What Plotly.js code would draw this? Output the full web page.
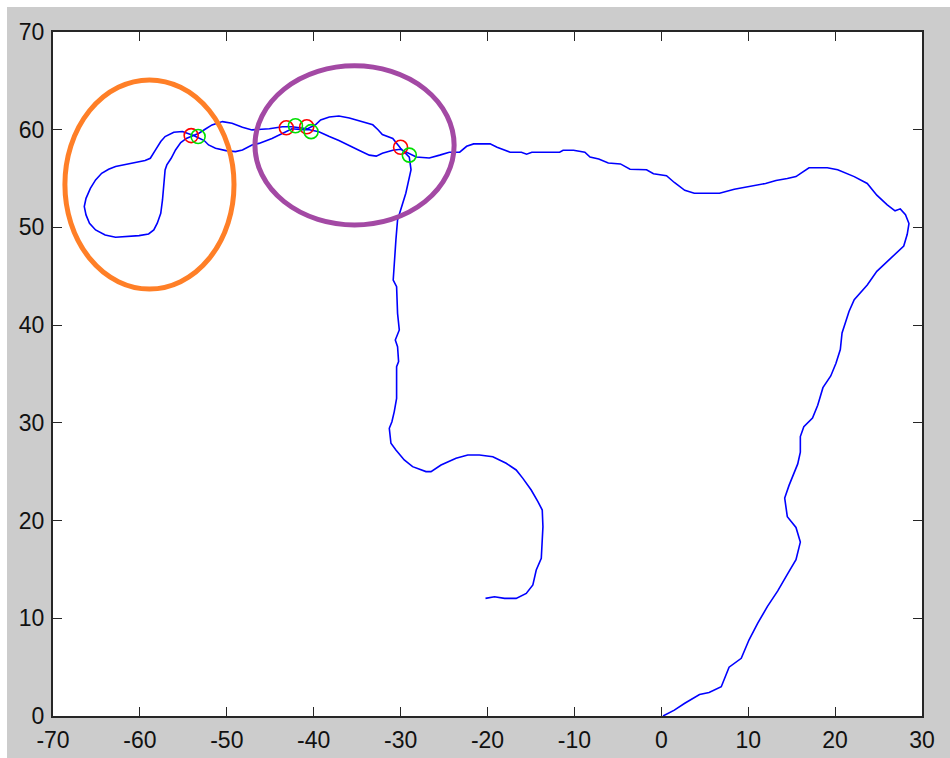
<!DOCTYPE html>
<html>
<head>
<meta charset="utf-8">
<script src="https://cdn.plot.ly/plotly-3.0.1.min.js"></script>
<style>
  html, body { margin: 0; padding: 0; background: #ffffff; width: 950px; height: 758px; overflow: hidden; }
  #chart { position: absolute; left: 7px; top: 7px; width: 943px; height: 751px; }
</style>
</head>
<body>
<div id="chart"></div>
<script>
// Trajectory (x, y) in order
const pathX = [0.2,1.5,2.7,4.4,5.5,6.9,7.8,9.2,10.1,11.1,12.2,13.4,14.5,15.5,16.0,15.5,14.5,14.2,14.7,15.7,16.0,16.0,16.4,17.4,18.0,18.6,19.5,20.1,20.6,20.8,21.2,21.6,22.2,22.9,23.7,24.8,26.2,27.9,28.3,28.5,28.1,27.5,26.9,26.0,24.8,23.7,22.2,20.3,19.1,17.0,16.0,15.5,14.5,13.2,12.0,10.7,8.4,6.7,3.8,2.7,1.5,0.6,-0.9,-1.7,-3.6,-4.7,-6.1,-7.2,-8.2,-8.8,-10.1,-11.3,-11.7,-14.9,-15.5,-16.1,-17.4,-18.9,-19.7,-21.6,-22.4,-23.2,-24.4,-25.5,-26.7,-28.2,-29.4,-30.0,-30.9,-32.1,-32.8,-33.6,-34.8,-35.9,-37.1,-38.2,-39.4,-40.5,-41.3,-42.5,-43.6,-44.8,-46.3,-47.1,-48.2,-49.0,-50.1,-51.3,-52.1,-52.6,-53.4,-54.0,-55.1,-56.1,-57.1,-57.6,-58.2,-58.8,-59.4,-60.5,-61.7,-62.8,-63.6,-64.4,-65.1,-65.7,-66.2,-66.4,-66.2,-65.8,-65.1,-64.0,-62.8,-61.3,-60.1,-59.0,-58.4,-58.0,-57.6,-57.4,-57.3,-57.1,-56.9,-56.4,-55.9,-55.3,-54.6,-54.0,-53.2,-52.5,-51.7,-50.5,-49.4,-48.2,-47.1,-45.1,-43.6,-42.5,-40.7,-39.8,-39.2,-38.2,-37.1,-35.9,-34.4,-33.2,-32.6,-32.1,-30.9,-30.0,-29.0,-28.8,-29.4,-30.0,-30.35,-30.54,-30.73,-30.85,-30.46,-30.35,-30.15,-30.61,-30.35,-30.23,-30.46,-30.46,-30.73,-31.0,-31.3,-31.11,-30.54,-29.58,-28.62,-27.08,-26.5,-25.35,-23.62,-22.27,-20.93,-19.39,-17.85,-16.7,-15.93,-14.97,-14.2,-13.7,-13.62,-13.7,-13.81,-14.39,-14.78,-15.54,-16.7,-18.04,-19.2,-20.23];
const pathY = [0,0.6,1.3,2.2,2.4,3.0,5.0,5.9,7.8,9.5,11.2,12.8,14.5,16.0,17.8,19.3,20.4,22.3,23.6,25.8,27.0,28.6,29.6,30.5,31.8,33.6,34.8,36.1,37.5,39.2,40.3,41.4,42.6,43.3,44.1,45.5,46.7,48.1,49.3,50.4,51.3,51.9,51.7,52.3,53.3,54.5,55.2,55.9,56.1,56.1,55.5,55.2,55.0,54.8,54.5,54.3,53.9,53.5,53.5,53.8,54.6,55.3,55.5,55.9,55.95,56.5,56.6,57.0,57.2,57.7,57.9,57.9,57.7,57.7,57.5,57.7,57.7,58.2,58.55,58.55,58.3,57.7,57.7,57.4,57.1,57.2,57.7,58.0,57.9,57.6,57.3,57.4,57.9,58.4,58.9,59.3,59.8,60.0,60.0,60.1,59.6,59.1,58.6,58.44,57.93,57.76,57.86,58.1,58.44,58.89,59.23,59.47,59.81,59.74,59.3,58.79,57.93,57.08,56.84,56.64,56.4,56.23,55.95,55.54,54.86,54.0,52.98,52.13,51.28,50.43,49.74,49.23,48.99,49.06,49.16,49.33,49.74,50.43,51.45,52.81,54.18,55.88,56.4,57.08,57.93,58.68,59.13,59.37,59.64,60.05,60.49,60.83,60.66,60.25,59.98,60.1,60.3,60.3,60.1,60.5,61.0,61.3,61.4,61.2,60.8,60.5,60.0,59.5,59.1,58.1,57.2,55.9,53.5,51.8,50.77,48.72,46.33,44.62,43.94,41.21,39.51,38.48,37.8,36.27,35.75,32.51,31.15,30.12,29.44,27.91,27.22,26.2,25.52,25.01,25.01,25.69,26.37,26.71,26.71,26.54,25.86,25.18,24.32,23.13,21.94,21.08,19.38,17.67,16.14,14.94,13.41,12.55,12.04,12.04,12.21,12.04];

// Loop-closure markers
const redX = [-54.1, -43.15, -40.8, -30.0];
const redY = [59.4, 60.2, 60.3, 58.2];
const greenX = [-53.3, -42.1, -40.3, -29.0];
const greenY = [59.3, 60.4, 59.8, 57.4];

// Highlight ellipses (center, radii, colour)
const ellipseCx = [-58.9, -35.3];
const ellipseCy = [54.4, 58.4];
const ellipseRx = [9.73, 11.46];
const ellipseRy = [10.7, 8.14];
const ellipseColor = ['#ff7f27', '#a349a4'];

// Axis ticks
const xTicks = [-70, -60, -50, -40, -30, -20, -10, 0, 10, 20, 30];
const yTicks = [0, 10, 20, 30, 40, 50, 60, 70];

const traces = [
  { x: pathX, y: pathY, type: 'scatter', mode: 'lines',
    line: { color: '#0000ff', width: 1.6 }, hoverinfo: 'skip' },
  { x: redX, y: redY, type: 'scatter', mode: 'markers',
    marker: { symbol: 'circle-open', size: 14, color: '#ff0000', line: { width: 1.6, color: '#ff0000' } } },
  { x: greenX, y: greenY, type: 'scatter', mode: 'markers',
    marker: { symbol: 'circle-open', size: 14, color: '#00e000', line: { width: 1.6, color: '#00e000' } } }
];

const shapes = ellipseCx.map((cx, i) => ({
  type: 'circle', xref: 'x', yref: 'y', layer: 'above',
  x0: cx - ellipseRx[i], x1: cx + ellipseRx[i],
  y0: ellipseCy[i] - ellipseRy[i], y1: ellipseCy[i] + ellipseRy[i],
  line: { color: ellipseColor[i], width: 5 }
}));

const axisCommon = {
  showgrid: false, zeroline: false,
  showline: true, linecolor: '#262626', linewidth: 2, mirror: 'ticks',
  ticks: 'inside', ticklen: 9, tickwidth: 1, tickcolor: '#262626',
  tickfont: { family: 'Liberation Sans, Arial, sans-serif', size: 23, color: '#111111' },
  fixedrange: true
};

const layout = {
  width: 943, height: 751,
  margin: { l: 46.3, r: 28.3, t: 24.7, b: 42, pad: 0 },
  paper_bgcolor: '#cccccc', plot_bgcolor: '#ffffff',
  showlegend: false,
  xaxis: Object.assign({}, axisCommon, { range: [-70, 30], tickmode: 'array', tickvals: xTicks, ticktext: xTicks.map(String), ticklabelstandoff: 2 }),
  yaxis: Object.assign({}, axisCommon, { range: [0, 70], tickmode: 'array', tickvals: yTicks, ticktext: yTicks.map(String), ticklabelstandoff: 2 }),
  shapes: shapes
};

Plotly.newPlot('chart', traces, layout, { staticPlot: true, displayModeBar: false });
</script>
</body>
</html>
